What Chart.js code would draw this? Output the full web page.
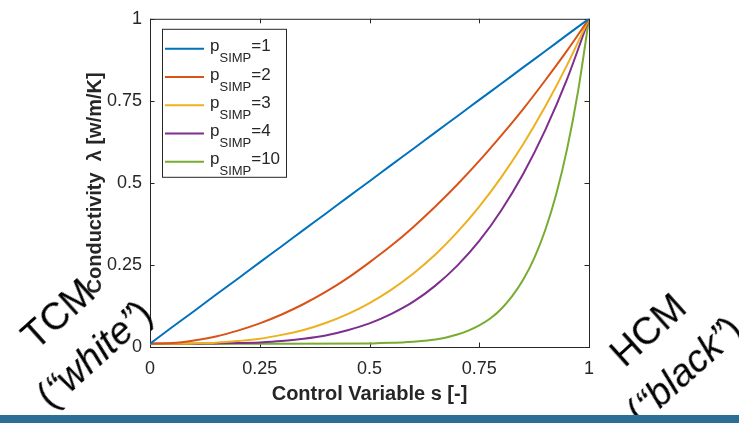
<!DOCTYPE html>
<html>
<head>
<meta charset="utf-8">
<script src="https://cdn.jsdelivr.net/npm/chart.js@4.4.1/dist/chart.umd.min.js"></script>
<style>
  html, body { margin: 0; padding: 0; background: #fff; }
  #wrap { position: relative; width: 739px; height: 423px; overflow: hidden;
          font-family: "Liberation Sans", Arial, sans-serif; }
  #c { position: absolute; left: 0; top: 0; }
  .note { position: absolute; font-size: 38px; line-height: 54px; text-align: center;
          color: #000; white-space: nowrap; transform: translate(-50%, -50%) rotate(-42deg); }
  .band { position: absolute; left: 0; top: 415px; width: 739px; height: 8px; background: #2b7094; }
</style>
</head>
<body>
<div id="wrap">
  <canvas id="c" width="739" height="423"></canvas>
  <div class="note" style="left:76px; top:334px;">TCM<br>(<i>“white”</i>)</div>
  <div class="note" style="left:666px; top:350px;">HCM<br>(<i>“black”</i>)</div>
  <div class="band"></div>
</div>
<script>
// Control variable samples
const S = [0, 0.05, 0.1, 0.15, 0.2, 0.25, 0.3, 0.35, 0.4, 0.45, 0.5,
           0.55, 0.6, 0.65, 0.7, 0.75, 0.8, 0.85, 0.9, 0.95, 1];
const S_FINE = [0, 0.25, 0.5, 0.525, 0.55, 0.575, 0.6, 0.625, 0.65, 0.675, 0.7, 0.725,
                0.75, 0.775, 0.8, 0.825, 0.85, 0.875, 0.9, 0.925, 0.95, 0.975, 1];

// Conductivity for each penalisation exponent
const LAMBDA_P1 = [0.010, 0.060, 0.109, 0.159, 0.208, 0.258, 0.307, 0.357, 0.406, 0.456, 0.505,
                   0.555, 0.604, 0.654, 0.703, 0.753, 0.802, 0.852, 0.901, 0.951, 1.000];
const LAMBDA_P2 = [0.010, 0.012, 0.020, 0.032, 0.050, 0.072, 0.099, 0.131, 0.168, 0.210, 0.258,
                   0.309, 0.366, 0.428, 0.495, 0.567, 0.644, 0.725, 0.812, 0.903, 1.000];
const LAMBDA_P3 = [0.010, 0.010, 0.011, 0.013, 0.018, 0.025, 0.037, 0.052, 0.073, 0.100, 0.134,
                   0.175, 0.224, 0.282, 0.350, 0.428, 0.517, 0.618, 0.732, 0.859, 1.000];
const LAMBDA_P4 = [0.010, 0.010, 0.010, 0.011, 0.012, 0.014, 0.018, 0.025, 0.035, 0.051, 0.072,
                   0.101, 0.138, 0.187, 0.248, 0.323, 0.416, 0.527, 0.660, 0.816, 1.000];
const LAMBDA_P10 = [0.010, 0.010, 0.011, 0.012, 0.013, 0.014, 0.016, 0.019, 0.023, 0.029, 0.038, 0.050,
                    0.066, 0.087, 0.116, 0.155, 0.205, 0.270, 0.355, 0.464, 0.603, 0.779, 1.000];

const P_VALUES = ['1', '2', '3', '4', '10'];
const COLORS = ['#0072BD', '#D95319', '#EDB120', '#7E2F8E', '#77AC30'];

const TICKS = [0, 0.25, 0.5, 0.75, 1];
const TICK_LABELS = ['0', '0.25', '0.5', '0.75', '1'];

const FONT = '"Liberation Sans", Arial, sans-serif';
const INK = '#262626';

const pairs = (xs, ys) => xs.map((x, i) => ({ x: x, y: ys[i] }));
const seriesX = [S, S, S, S, S_FINE];
const seriesY = [LAMBDA_P1, LAMBDA_P2, LAMBDA_P3, LAMBDA_P4, LAMBDA_P10];

const datasets = P_VALUES.map((p, i) => ({
  label: 'p_SIMP=' + p,
  pValue: p,
  data: pairs(seriesX[i], seriesY[i]),
  borderColor: COLORS[i],
  backgroundColor: COLORS[i],
  borderWidth: 2,
  pointRadius: 0,
  fill: false,
  cubicInterpolationMode: 'monotone'
}));

// Axes box with inward tick marks on all four sides
const framePlugin = {
  id: 'frame',
  beforeDatasetsDraw(chart) {
    const { ctx, chartArea: a, scales } = chart;
    const L = 4.5;
    ctx.save();
    ctx.strokeStyle = INK;
    ctx.lineWidth = 1;
    ctx.strokeRect(a.left + 0.5, a.top + 0.5, a.right - a.left, a.bottom - a.top);
    ctx.beginPath();
    TICKS.forEach(v => {
      const px = Math.round(scales.x.getPixelForValue(v)) + 0.5;
      ctx.moveTo(px, a.bottom); ctx.lineTo(px, a.bottom - L);
      ctx.moveTo(px, a.top); ctx.lineTo(px, a.top + L);
      const py = Math.round(scales.y.getPixelForValue(v)) + 0.5;
      ctx.moveTo(a.left, py); ctx.lineTo(a.left + L, py);
      ctx.moveTo(a.right, py); ctx.lineTo(a.right - L, py);
    });
    ctx.stroke();
    ctx.restore();
  }
};

// Legend with subscripted labels
const legendPlugin = {
  id: 'subLegend',
  afterDraw(chart) {
    const { ctx, chartArea: a } = chart;
    const x0 = a.left + 12, y0 = a.top + 10;
    const w = 124, h = 148;
    const rowStart = y0 + 20, rowGap = 28.25;
    ctx.save();
    ctx.fillStyle = '#fff';
    ctx.fillRect(x0, y0, w, h);
    ctx.strokeStyle = INK;
    ctx.lineWidth = 1;
    ctx.strokeRect(x0 + 0.5, y0 + 0.5, w, h);
    chart.data.datasets.forEach((ds, i) => {
      const ry = rowStart + i * rowGap;
      ctx.strokeStyle = ds.borderColor;
      ctx.lineWidth = 2;
      ctx.beginPath();
      ctx.moveTo(x0 + 3, ry); ctx.lineTo(x0 + 42, ry);
      ctx.stroke();
      ctx.fillStyle = INK;
      ctx.textBaseline = 'alphabetic';
      ctx.textAlign = 'left';
      let tx = x0 + 48;
      ctx.font = '17px ' + FONT;
      ctx.fillText('p', tx, ry + 2.5);
      tx += ctx.measureText('p').width;
      ctx.font = '13px ' + FONT;
      ctx.fillText('SIMP', tx, ry + 13.5);
      tx += ctx.measureText('SIMP').width;
      ctx.font = '17px ' + FONT;
      ctx.fillText('=' + ds.pValue, tx, ry + 2.5);
    });
    ctx.restore();
  }
};

new Chart(document.getElementById('c'), {
  type: 'line',
  data: { datasets: datasets },
  options: {
    responsive: false,
    animation: false,
    events: [],
    layout: { padding: { left: 0, right: 150, top: 14, bottom: 0 } },
    plugins: { legend: { display: false }, tooltip: { enabled: false } },
    scales: {
      x: {
        type: 'linear', min: 0, max: 1,
        grid: { display: false, drawTicks: false },
        border: { display: false },
        afterBuildTicks: s => { s.ticks = TICKS.map(v => ({ value: v })); },
        afterFit: s => { s.height = 76; },
        ticks: {
          padding: 11, color: INK, maxRotation: 0, autoSkip: false,
          font: { size: 18, family: FONT },
          callback: v => TICK_LABELS[TICKS.indexOf(v)]
        },
        title: {
          display: true, text: 'Control Variable s [-]', color: INK,
          font: { size: 20, weight: 'bold', family: FONT },
          padding: { top: 0, bottom: 16.5 }
        }
      },
      y: {
        type: 'linear', min: 0, max: 1,
        grid: { display: false, drawTicks: false },
        border: { display: false },
        afterBuildTicks: s => { s.ticks = TICKS.map(v => ({ value: v })); },
        afterFit: s => { s.width = 150; },
        ticks: {
          padding: 8, color: INK, autoSkip: false,
          font: { size: 18, family: FONT },
          callback: v => TICK_LABELS[TICKS.indexOf(v)]
        },
        title: {
          display: true, text: 'Conductivity  λ [w/m/K]', color: INK,
          font: { size: 20, weight: 'bold', family: FONT },
          padding: { top: 83.5, bottom: 0 }
        }
      }
    }
  },
  plugins: [framePlugin, legendPlugin]
});
</script>
</body>
</html>
